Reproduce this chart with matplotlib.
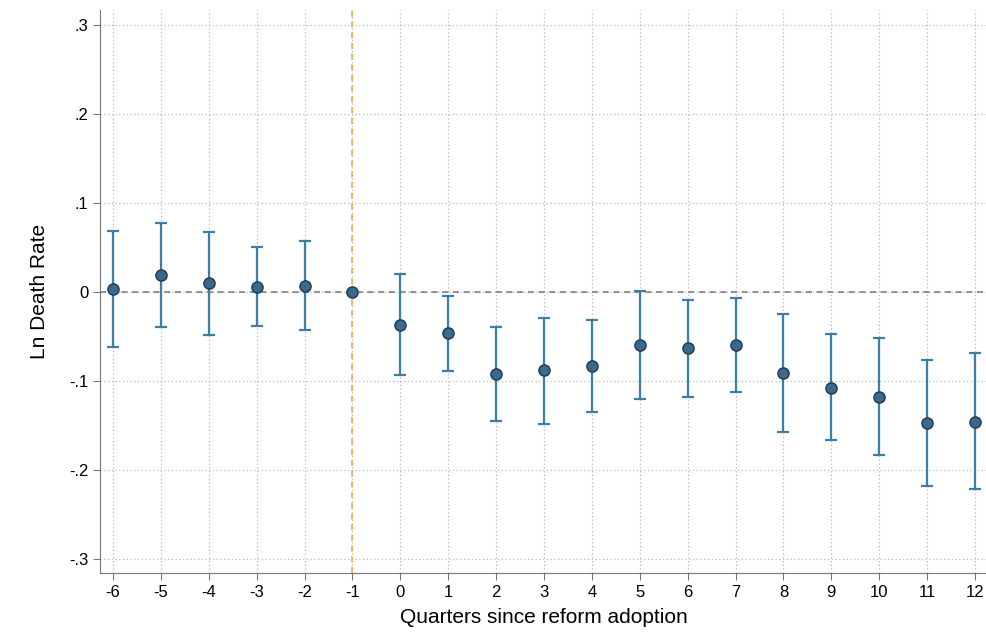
import matplotlib
matplotlib.use("Agg")
import matplotlib.pyplot as plt

plt.rcParams['font.family'] = ['Liberation Sans', 'DejaVu Sans']
plt.rcParams['axes.unicode_minus'] = False

quarters = list(range(-6, 13))
coef = [0.003, 0.019, 0.010, 0.006, 0.007, 0.0, -0.037, -0.046, -0.092, -0.088,
        -0.083, -0.060, -0.063, -0.060, -0.091, -0.108, -0.118, -0.147, -0.146]
ci_hi = [0.068, 0.078, 0.067, 0.051, 0.057, 0.0, 0.020, -0.005, -0.039, -0.029,
         -0.031, 0.001, -0.009, -0.007, -0.025, -0.047, -0.052, -0.076, -0.069]
ci_lo = [-0.062, -0.039, -0.048, -0.038, -0.043, 0.0, -0.093, -0.089, -0.145, -0.148,
         -0.135, -0.120, -0.118, -0.112, -0.157, -0.167, -0.183, -0.218, -0.222]
yticks = [-0.3, -0.2, -0.1, 0, 0.1, 0.2, 0.3]
ylabels = ['-.3', '-.2', '-.1', '0', '.1', '.2', '.3']

fig = plt.figure(figsize=(9.86, 6.4), dpi=100)
ax = fig.add_axes([100/986, 1-573/640, 888/986, 563/640])
ax.set_xlim(-6.27, 12.27)
ax.set_ylim(-0.316, 0.317)

ax.grid(True, color='#b8b8b8', linestyle=(0, (1, 2)), linewidth=0.9)
ax.set_axisbelow(True)
ax.axhline(0, color='#777777', linestyle=(0, (4, 3)), linewidth=1.1, zorder=1)
ax.axvline(-1, color='#f0a830', linestyle=(0, (4, 3)), linewidth=1.1, zorder=1)

yerr = [[c - l for c, l in zip(coef, ci_lo)], [h - c for c, h in zip(coef, ci_hi)]]
ax.errorbar(quarters, coef, yerr=yerr, fmt='none', ecolor='#3d7ea6',
            elinewidth=1.6, capsize=4, capthick=1.6, zorder=2)
ax.scatter(quarters, coef, s=65, color='#3e6889', edgecolor='#1e3a55',
           linewidth=1.0, zorder=3)

ax.set_xticks(quarters)
ax.set_yticks(yticks)
ax.set_yticklabels(ylabels)
for s in ['top', 'right']:
    ax.spines[s].set_visible(False)
for s in ['left', 'bottom']:
    ax.spines[s].set_color('#777777')
ax.tick_params(axis='both', colors='#777777', labelcolor='black', labelsize=12, length=5)
ax.set_xlabel('Quarters since reform adoption', fontsize=15, labelpad=6)
ax.set_ylabel('Ln Death Rate', fontsize=15, labelpad=14)

fig.savefig('out.png', dpi=100)
